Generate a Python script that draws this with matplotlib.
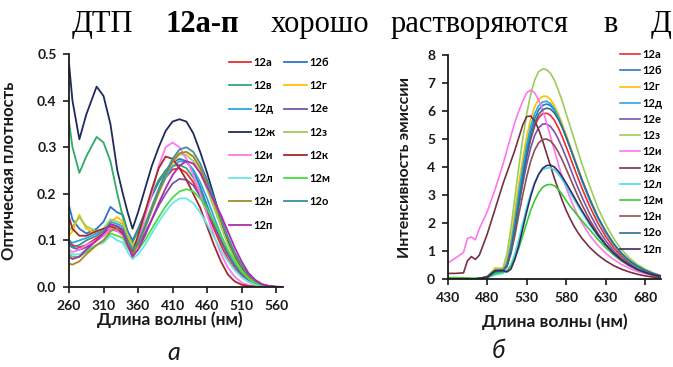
import matplotlib

matplotlib.use("Agg")
import matplotlib.pyplot as plt

# ---------------- absorption (panel а) ----------------
abs_wl = [260, 265, 275, 285, 300, 310, 320, 330, 338, 345, 352,
          360, 370, 380, 390, 400, 410, 420, 430, 440, 450, 460,
          470, 480, 490, 500, 510, 520, 530, 540, 550, 560, 570]

abs_a = [0.10, 0.09, 0.085, 0.09, 0.105, 0.115, 0.125, 0.12, 0.115, 0.09, 0.075,
         0.095, 0.13, 0.17, 0.205, 0.235, 0.252, 0.255, 0.245, 0.225, 0.195, 0.16,
         0.125, 0.09, 0.06, 0.038, 0.022, 0.011, 0.005, 0.002, 0.001, 0, 0]
abs_b = [0.175, 0.145, 0.125, 0.115, 0.125, 0.14, 0.172, 0.16, 0.155, 0.12, 0.10,
         0.125, 0.16, 0.195, 0.225, 0.25, 0.267, 0.275, 0.27, 0.25, 0.215, 0.175,
         0.135, 0.10, 0.07, 0.045, 0.027, 0.014, 0.006, 0.002, 0.001, 0, 0]
abs_v = [0.355, 0.30, 0.245, 0.28, 0.322, 0.31, 0.27, 0.20, 0.15, 0.11, 0.095,
         0.12, 0.16, 0.20, 0.23, 0.25, 0.26, 0.262, 0.255, 0.235, 0.205, 0.17,
         0.135, 0.10, 0.07, 0.045, 0.027, 0.014, 0.006, 0.002, 0.001, 0, 0]
abs_g = [0.11, 0.12, 0.155, 0.125, 0.115, 0.12, 0.14, 0.15, 0.14, 0.11, 0.09,
         0.10, 0.13, 0.165, 0.20, 0.235, 0.265, 0.285, 0.29, 0.28, 0.255, 0.22,
         0.18, 0.14, 0.10, 0.068, 0.042, 0.023, 0.011, 0.004, 0.001, 0, 0]
abs_d = [0.10, 0.095, 0.10, 0.105, 0.115, 0.125, 0.14, 0.135, 0.13, 0.10, 0.085,
         0.10, 0.135, 0.17, 0.205, 0.235, 0.258, 0.27, 0.268, 0.252, 0.225, 0.19,
         0.15, 0.112, 0.078, 0.05, 0.03, 0.016, 0.007, 0.003, 0.001, 0, 0]
abs_e = [0.095, 0.085, 0.08, 0.085, 0.10, 0.11, 0.125, 0.12, 0.115, 0.09, 0.075,
         0.09, 0.115, 0.145, 0.175, 0.20, 0.222, 0.232, 0.23, 0.218, 0.195, 0.165,
         0.132, 0.10, 0.07, 0.046, 0.028, 0.015, 0.007, 0.003, 0.001, 0, 0]
abs_zh = [0.48, 0.40, 0.317, 0.37, 0.43, 0.41, 0.35, 0.25, 0.20, 0.16, 0.125,
          0.16, 0.21, 0.26, 0.30, 0.335, 0.355, 0.36, 0.355, 0.33, 0.29, 0.245,
          0.195, 0.145, 0.10, 0.065, 0.04, 0.02, 0.009, 0.004, 0.001, 0, 0]
abs_z = [0.12, 0.13, 0.15, 0.13, 0.12, 0.125, 0.145, 0.14, 0.135, 0.105, 0.085,
         0.10, 0.135, 0.175, 0.21, 0.245, 0.27, 0.285, 0.283, 0.27, 0.245, 0.21,
         0.17, 0.13, 0.092, 0.06, 0.036, 0.019, 0.009, 0.003, 0.001, 0, 0]
abs_i = [0.08, 0.075, 0.08, 0.09, 0.10, 0.11, 0.125, 0.12, 0.11, 0.085, 0.07,
         0.10, 0.15, 0.20, 0.26, 0.30, 0.31, 0.30, 0.275, 0.24, 0.20, 0.155,
         0.11, 0.072, 0.042, 0.022, 0.01, 0.004, 0.001, 0, 0, 0, 0]
abs_k = [0.15, 0.125, 0.11, 0.11, 0.12, 0.125, 0.13, 0.125, 0.115, 0.09, 0.075,
         0.11, 0.16, 0.21, 0.255, 0.28, 0.275, 0.255, 0.23, 0.20, 0.17, 0.13,
         0.09, 0.055, 0.027, 0.012, 0.005, 0.002, 0.001, 0, 0, 0, 0]
abs_l = [0.075, 0.07, 0.07, 0.08, 0.09, 0.095, 0.11, 0.10, 0.095, 0.075, 0.06,
         0.07, 0.09, 0.115, 0.14, 0.162, 0.18, 0.19, 0.19, 0.18, 0.16, 0.135,
         0.107, 0.08, 0.056, 0.036, 0.021, 0.011, 0.005, 0.002, 0.001, 0, 0]
abs_m = [0.07, 0.065, 0.065, 0.075, 0.09, 0.10, 0.115, 0.11, 0.105, 0.085, 0.07,
         0.08, 0.10, 0.125, 0.15, 0.173, 0.192, 0.205, 0.21, 0.205, 0.19, 0.168,
         0.14, 0.11, 0.08, 0.054, 0.033, 0.018, 0.008, 0.003, 0.001, 0, 0]
abs_n = [0.05, 0.048, 0.055, 0.07, 0.09, 0.10, 0.12, 0.125, 0.12, 0.09, 0.07,
         0.09, 0.125, 0.165, 0.205, 0.24, 0.27, 0.287, 0.29, 0.28, 0.255, 0.222,
         0.183, 0.143, 0.104, 0.07, 0.044, 0.025, 0.012, 0.005, 0.002, 0, 0]
abs_o = [0.09, 0.085, 0.09, 0.10, 0.11, 0.12, 0.135, 0.13, 0.125, 0.10, 0.08,
         0.095, 0.13, 0.17, 0.21, 0.245, 0.275, 0.295, 0.30, 0.29, 0.265, 0.23,
         0.19, 0.148, 0.108, 0.074, 0.047, 0.027, 0.013, 0.005, 0.002, 0, 0]
abs_p = [0.065, 0.06, 0.065, 0.08, 0.10, 0.115, 0.135, 0.13, 0.12, 0.09, 0.065,
         0.08, 0.11, 0.145, 0.18, 0.212, 0.24, 0.26, 0.27, 0.265, 0.245, 0.215,
         0.185, 0.155, 0.12, 0.085, 0.055, 0.03, 0.015, 0.006, 0.002, 0.001, 0]

abs_labels = ["12а", "12б", "12в", "12г", "12д", "12е", "12ж", "12з",
              "12и", "12к", "12л", "12м", "12н", "12о", "12п"]
abs_series = [abs_a, abs_b, abs_v, abs_g, abs_d, abs_e, abs_zh, abs_z,
              abs_i, abs_k, abs_l, abs_m, abs_n, abs_o, abs_p]
abs_colors = ["#EE2C2C", "#2E75C8", "#2EAA6A", "#FFC000", "#2BA8D8",
              "#7B52AB", "#1F2A5E", "#9ACD58", "#FF77EE", "#A52A2A",
              "#66E8E8", "#44DD44", "#A5882A", "#3A8FA0", "#B027B0"]

# ---------------- emission (panel б) ----------------
em_wl = [430, 440, 450, 455, 460, 465, 470, 480, 490, 500,
         505, 510, 515, 520, 525, 530, 535, 540, 545, 550,
         555, 560, 565, 570, 575, 580, 585, 590, 595, 600,
         610, 620, 630, 640, 650, 660, 670, 680, 690, 700]

em_a = [0, 0, 0, 0, 0, 0, 0.02, 0.06, 0.3, 0.3,
        0.5, 1.05, 1.85, 2.75, 3.6, 4.35, 4.98, 5.45, 5.75, 5.9,
        5.92, 5.85, 5.67, 5.4, 5.08, 4.72, 4.35, 3.97, 3.6, 3.24,
        2.58, 2.0, 1.52, 1.12, 0.81, 0.57, 0.39, 0.26, 0.16, 0.09]
em_b = [0, 0, 0, 0, 0, 0, 0.02, 0.06, 0.28, 0.3,
        0.5, 1.1, 1.95, 2.9, 3.8, 4.6, 5.25, 5.72, 6.03, 6.2,
        6.25, 6.2, 6.03, 5.77, 5.45, 5.08, 4.7, 4.3, 3.9, 3.5,
        2.8, 2.18, 1.66, 1.23, 0.89, 0.63, 0.44, 0.3, 0.19, 0.1]
em_g = [0, 0, 0, 0, 0, 0, 0.02, 0.08, 0.4, 0.35,
        0.7, 1.4, 2.4, 3.4, 4.3, 5.1, 5.7, 6.15, 6.4, 6.52,
        6.53, 6.42, 6.2, 5.9, 5.55, 5.15, 4.75, 4.35, 3.95, 3.55,
        2.85, 2.2, 1.7, 1.25, 0.9, 0.65, 0.45, 0.3, 0.19, 0.1]
em_d = [0, 0, 0, 0, 0, 0, 0.02, 0.06, 0.3, 0.3,
        0.55, 1.2, 2.1, 3.1, 4.0, 4.8, 5.45, 5.9, 6.18, 6.32,
        6.35, 6.27, 6.08, 5.8, 5.45, 5.08, 4.7, 4.3, 3.9, 3.52,
        2.82, 2.2, 1.68, 1.25, 0.9, 0.64, 0.44, 0.3, 0.19, 0.1]
em_e = [0, 0, 0, 0, 0, 0, 0.02, 0.06, 0.3, 0.32,
        0.5, 1.0, 1.75, 2.6, 3.4, 4.1, 4.68, 5.12, 5.4, 5.53,
        5.54, 5.45, 5.26, 5.0, 4.68, 4.33, 3.97, 3.6, 3.25, 2.92,
        2.32, 1.8, 1.37, 1.01, 0.73, 0.52, 0.36, 0.24, 0.15, 0.08]
em_z = [0, 0, 0, 0, 0, 0, 0.02, 0.1, 0.35, 0.4,
        0.9, 1.8, 2.9, 4.0, 5.0, 5.9, 6.6, 7.1, 7.4, 7.5,
        7.48, 7.35, 7.1, 6.75, 6.35, 5.9, 5.45, 5.0, 4.55, 4.1,
        3.3, 2.55, 1.95, 1.45, 1.05, 0.75, 0.52, 0.35, 0.22, 0.12]
em_i = [0.57, 0.75, 0.95, 1.45, 1.5, 1.4, 1.8, 2.4, 3.2, 4.1,
        4.6, 5.1, 5.6, 6.0, 6.35, 6.65, 6.75, 6.65, 6.4, 6.05,
        5.6, 5.1, 4.6, 4.1, 3.65, 3.25, 2.9, 2.55, 2.25, 2.0,
        1.55, 1.2, 0.92, 0.7, 0.52, 0.38, 0.27, 0.19, 0.12, 0.07]
em_k = [0.2, 0.2, 0.22, 0.65, 0.8, 0.7, 0.85, 1.6, 2.5, 3.4,
        3.8, 4.2, 4.6, 5.05, 5.5, 5.8, 5.82, 5.65, 5.35, 4.95,
        4.5, 4.05, 3.6, 3.2, 2.8, 2.45, 2.15, 1.88, 1.65, 1.45,
        1.12, 0.86, 0.65, 0.48, 0.35, 0.25, 0.17, 0.11, 0.07, 0.04]
em_l = [0, 0, 0, 0, 0, 0, 0.02, 0.05, 0.15, 0.2,
        0.3, 0.5, 0.9, 1.4, 2.0, 2.55, 3.05, 3.45, 3.73, 3.9,
        3.96, 3.97, 3.9, 3.75, 3.55, 3.32, 3.08, 2.84, 2.6, 2.37,
        1.93, 1.54, 1.2, 0.92, 0.69, 0.5, 0.36, 0.25, 0.16, 0.1]
em_m = [0.05, 0.05, 0.04, 0.04, 0.03, 0.03, 0.02, 0.05, 0.2, 0.25,
        0.3, 0.45, 0.75, 1.1, 1.55, 2.0, 2.45, 2.8, 3.08, 3.27,
        3.36, 3.38, 3.33, 3.2, 3.02, 2.8, 2.6, 2.42, 2.25, 2.08,
        1.75, 1.42, 1.12, 0.86, 0.64, 0.47, 0.33, 0.23, 0.15, 0.09]
em_n = [0, 0, 0, 0, 0, 0, 0.02, 0.06, 0.3, 0.3,
        0.45, 0.9, 1.55, 2.3, 3.0, 3.65, 4.2, 4.6, 4.86, 4.98,
        5.0, 4.93, 4.77, 4.53, 4.25, 3.93, 3.6, 3.27, 2.95, 2.65,
        2.1, 1.63, 1.24, 0.92, 0.67, 0.48, 0.33, 0.22, 0.14, 0.08]
em_o = [0, 0, 0, 0, 0, 0, 0.02, 0.05, 0.25, 0.3,
        0.45, 1.0, 1.8, 2.7, 3.6, 4.4, 5.05, 5.55, 5.87, 6.04,
        6.1, 6.07, 5.93, 5.7, 5.4, 5.05, 4.68, 4.3, 3.92, 3.55,
        2.85, 2.22, 1.7, 1.27, 0.92, 0.66, 0.46, 0.31, 0.2, 0.11]
em_p = [0, 0, 0, 0, 0, 0, 0.02, 0.08, 0.3, 0.3,
        0.25, 0.35, 0.7, 1.2, 1.8, 2.4, 2.95, 3.4, 3.73, 3.95,
        4.05, 4.07, 4.0, 3.85, 3.65, 3.42, 3.18, 2.93, 2.68, 2.44,
        1.98, 1.57, 1.22, 0.93, 0.69, 0.5, 0.35, 0.24, 0.15, 0.09]

em_labels = ["12а", "12б", "12г", "12д", "12е", "12з", "12и",
             "12к", "12л", "12м", "12н", "12о", "12п"]
em_series = [em_a, em_b, em_g, em_d, em_e, em_z, em_i,
             em_k, em_l, em_m, em_n, em_o, em_p]
em_colors = ["#EE2C2C", "#2E75C8", "#FFC000", "#2BA8D8", "#7B52AB",
             "#9ACD58", "#FF77EE", "#7A2E40", "#44E0E8", "#33CC33",
             "#8B5050", "#2E6E8E", "#3A2A6A"]

SANS = "Lato"
INK = "#1A1A1A"

fig = plt.figure(figsize=(6.73, 3.67), dpi=100)
W, H = 673, 367


def px_axes(x0, y0, x1, y1):
    return fig.add_axes([x0 / W, 1 - y1 / H, (x1 - x0) / W, (y1 - y0) / H])


def style(ax):
    for side in ("top", "right"):
        ax.spines[side].set_visible(False)
    for side in ("left", "bottom"):
        ax.spines[side].set_linewidth(1.3)
        ax.spines[side].set_color(INK)
    ax.tick_params(direction="out", length=4, width=1.2, colors=INK,
                   labelsize=10, pad=5)
    for lab in ax.get_xticklabels() + ax.get_yticklabels():
        lab.set_fontfamily(SANS)
        lab.set_fontweight("bold")


label_kw = dict(fontfamily=SANS, fontweight="bold", color=INK)

# panel а
ax1 = px_axes(69, 54, 283, 287)
lines = []
for ys, c, lab in zip(abs_series, abs_colors, abs_labels):
    lines += ax1.plot(abs_wl, ys, color=c, lw=1.3, label=lab)
ax1.set_xlim(260, 570)
ax1.set_ylim(0, 0.5)
ax1.set_xticks(range(260, 561, 50))
ax1.set_yticks([0, 0.1, 0.2, 0.3, 0.4, 0.5])
ax1.set_yticklabels([f"{v:.1f}" for v in [0, 0.1, 0.2, 0.3, 0.4, 0.5]])
style(ax1)
ax1.set_ylabel("Оптическая плотность", fontsize=12, **label_kw)
ax1.yaxis.set_label_coords(-0.245, 0.5)
ax1.set_xlabel("Длина волны (нм)", fontsize=12.5, **label_kw)
ax1.xaxis.set_label_coords(0.47, -0.103)
# legend reads row by row (12а 12б / 12в 12г ...), matplotlib fills by column
order = list(range(0, 15, 2)) + list(range(1, 15, 2))
ax1.legend([lines[i] for i in order], [abs_labels[i] for i in order],
           ncol=2, loc="upper left", bbox_to_anchor=(229 / W, 1 - 57 / H),
           bbox_transform=fig.transFigure, frameon=False,
           prop={"family": SANS, "weight": "bold", "size": 8},
           handlelength=2.0, handletextpad=0.2, columnspacing=0.8,
           labelspacing=1.1, borderpad=0, borderaxespad=0)

# panel б
ax2 = px_axes(447.7, 55, 661, 279)
for ys, c, lab in zip(em_series, em_colors, em_labels):
    ax2.plot(em_wl, ys, color=c, lw=1.2, label=lab)
ax2.set_xlim(430, 700)
ax2.set_ylim(0, 8)
ax2.set_xticks(range(430, 681, 50))
ax2.set_yticks(range(0, 9))
style(ax2)
ax2.set_ylabel("Интенсивность эмиссии", fontsize=11.5, **label_kw)
ax2.yaxis.set_label_coords(-0.167, 0.5)
ax2.set_xlabel("Длина волны (нм)", fontsize=12.5, **label_kw)
ax2.xaxis.set_label_coords(0.5, -0.152)
ax2.legend(loc="upper left", bbox_to_anchor=(620 / W, 1 - 49 / H),
           bbox_transform=fig.transFigure, frameon=False,
           prop={"family": SANS, "weight": "bold", "size": 8},
           handlelength=1.8, handletextpad=0.2, labelspacing=0.47,
           borderpad=0, borderaxespad=0)

# panel letters
fig.text(174 / W, 1 - 352 / H, "а", fontfamily=SANS, fontstyle="italic",
         fontsize=18, ha="center", va="center", color=INK)
fig.text(498 / W, 1 - 350 / H, "б", fontfamily=SANS, fontstyle="italic",
         fontsize=18, ha="center", va="center", color=INK)

# justified line of body text above the figure (cut at right edge)
words = [("ДТП", 72, "normal"), ("12а-п", 166, "bold"), ("хорошо", 271, "normal"),
         ("растворяются", 391, "normal"), ("в", 603, "normal"), ("Д", 651, "normal")]
for w, x, wt in words:
    fig.text(x / W, 1 - 32 / H, w, fontfamily="Liberation Serif", fontsize=22,
             fontweight=wt, ha="left", va="baseline", color="black")

fig.savefig("out.png", dpi=100, facecolor="white")
